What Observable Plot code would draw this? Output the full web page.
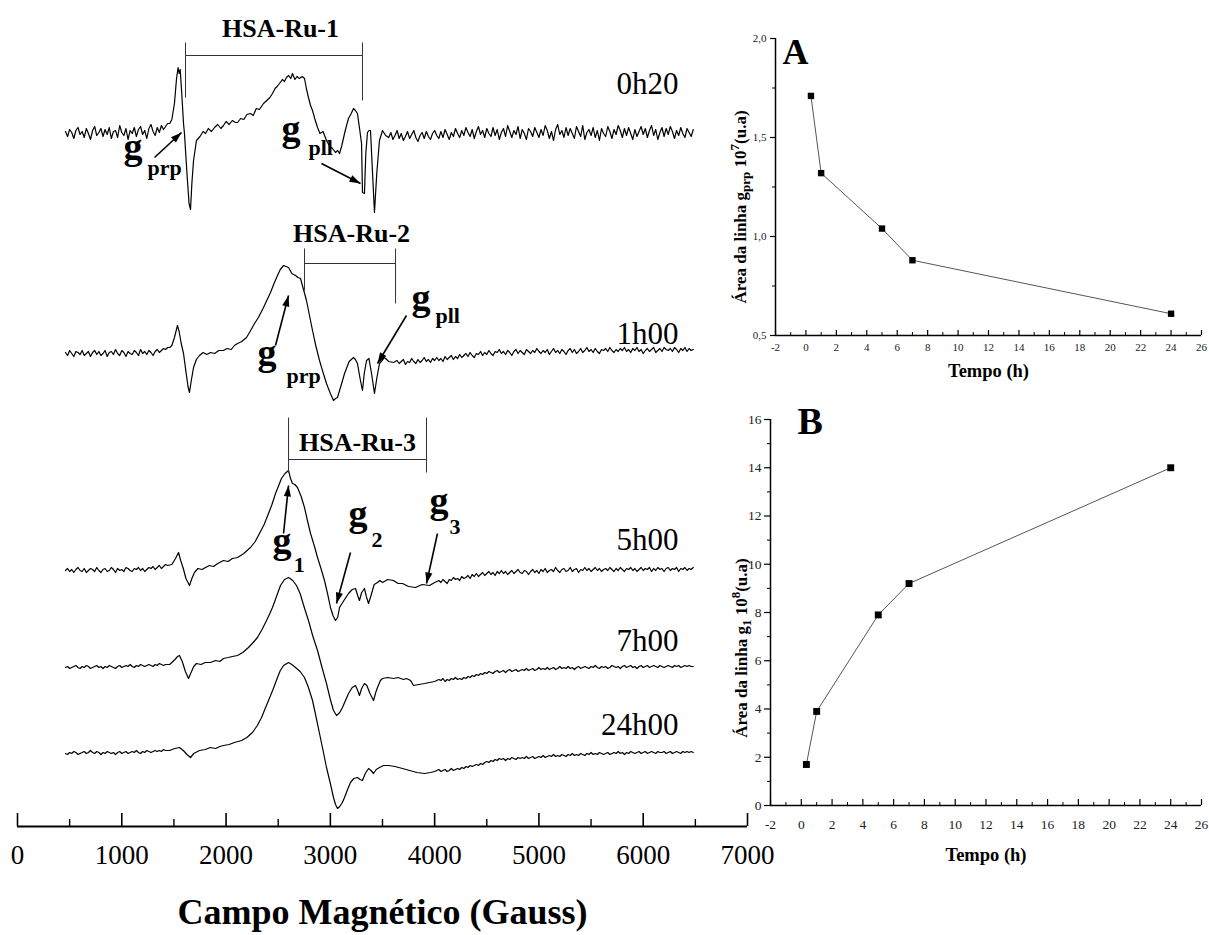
<!DOCTYPE html>
<html><head><meta charset="utf-8">
<script src="https://cdn.jsdelivr.net/npm/d3@7"></script>
<script src="https://cdn.jsdelivr.net/npm/@observablehq/plot@0.6"></script>
<style>
body{margin:0;background:#fff;width:1209px;height:935px;position:relative;overflow:hidden;font-family:"Liberation Serif","Times New Roman",serif;}
.panel{position:absolute;}
.panel svg{max-width:none!important;overflow:visible;}
.ylab{position:absolute;font-weight:bold;font-size:17px;white-space:nowrap;transform:translate(-50%,-50%) rotate(-90deg);line-height:1;color:#000;}
.ylab sub,.ylab sup{font-size:13px;}
</style></head><body>
<div id="left" class="panel" style="left:0;top:0;width:760px;height:935px"></div>
<div id="pa" class="panel" style="left:730px;top:0;width:479px;height:400px"></div>
<div id="pb" class="panel" style="left:730px;top:400px;width:479px;height:460px"></div>
<div class="ylab" style="left:740px;top:207px">Área da linha g<sub>prp</sub> 10<sup>7</sup>(u.a)</div>
<div class="ylab" style="left:741px;top:648px">Área da linha g<sub>1</sub> 10<sup>8</sup>(u.a)</div>
<script>
// ---------- DATA ----------
const timeLabels = ["0h20","1h00","5h00","7h00","24h00"];

// EPR spectra: [field (Gauss), relative intensity]
const trace0h20 = [
[460,2],[480,-3],[500,4],[520,1],[540,-5],[560,3],[580,6],[600,-1],[620,2],[640,-4],[660,5],[680,0],[700,-6],[720,3],[740,7],[760,-2],[780,1],[800,5],[820,-3],[840,4],[860,-1],[880,6],[900,-5],[920,2],[940,3],[960,-4],[980,8],[1000,1],[1020,-2],[1040,5],[1060,-6],[1080,3],[1100,0],[1120,6],[1140,-3],[1160,4],[1180,7],[1200,-1],[1220,3],[1240,-5],[1260,5],[1280,9],[1300,2],[1320,-2],[1340,6],[1360,1],[1380,8],[1400,4],[1420,7],[1440,10],
[1460,10],[1480,14],[1505,30],[1525,55],[1540,66],[1550,60],[1560,64],[1575,40],[1592,10],[1601,0],[1625,-40],[1645,-70],[1659,-76],[1672,-50],[1688,-27],[1716,-7],[1750,-3],[1780,2],[1803,0],[1830,5],[1860,2],[1889,6],[1920,9],[1950,5],[1975,8],[2000,12],[2030,9],[2060,13],[2090,11],[2110,11],[2140,15],[2170,14],[2200,19],[2234,20],[2260,18],[2290,25],[2320,24],[2359,30],[2390,33],[2420,36],[2445,40],[2470,45],[2490,47],[2512,50],[2540,54],[2560,52],[2579,56],[2600,58],[2620,55],[2637,60],[2660,54],[2680,57],[2704,55],[2730,57],[2752,55],[2770,45],[2790,36],[2810,28],[2829,23],[2850,15],[2877,6],[2900,0],[2930,2],[2963,-7],[2990,-12],[3020,-15],[3049,-19],[3070,-17],[3088,-20],[3110,-12],[3136,0],[3155,8],[3174,15],[3200,20],[3222,25],[3240,23],[3260,20],[3280,5],[3299,-10],[3308,-59],[3327,-60],[3340,-20],[3356,1],[3370,3],[3385,3],[3400,-30],[3423,-79],[3445,-40],[3471,-7],[3500,3],[3530,-2],
[3560,-4],[3580,1],[3600,-6],[3620,-2],[3640,3],[3660,-5],[3680,0],[3700,-7],[3720,-3],[3740,2],
[3760,-5],[3780,-1],[3800,3],[3820,-4],[3840,-8],[3860,-2],[3880,1],[3900,-5],[3920,2],[3940,-3],
[3960,-6],[3980,0],[4000,3],[4020,-2],[4040,-5],[4060,2],[4080,-4],[4100,4],[4120,-1],[4140,-6],
[4160,1],[4180,-3],[4200,5],[4220,0],[4240,-4],[4260,3],[4280,-2],[4300,6],[4320,1],[4340,-3],
[4360,4],[4380,-5],[4400,2],[4420,7],[4440,-1],[4460,3],[4480,-4],[4500,5],[4520,0],[4540,-3],
[4560,6],[4580,-2],[4600,4],[4620,-6],[4640,1],[4660,5],[4680,-3],[4700,8],[4720,2],[4740,-4],
[4760,3],[4780,-1],[4800,7],[4820,-5],[4840,4],[4860,0],[4880,-6],[4900,5],[4920,2],[4940,-3],
[4960,6],[4980,1],[5000,-4],[5020,4],[5040,-2],[5060,8],[5080,3],[5100,-5],[5120,2],[5140,-7],
[5160,4],[5180,9],[5200,-1],[5220,3],[5240,-4],[5260,6],[5280,-2],[5300,5],[5320,0],[5340,-5],
[5360,7],[5380,2],[5400,-3],[5420,8],[5440,-6],[5460,1],[5480,4],[5500,-2],[5520,6],[5540,-4],
[5560,3],[5580,-7],[5600,5],[5620,0],[5640,-3],[5660,7],[5680,2],[5700,-5],[5720,4],[5740,-1],
[5760,8],[5780,3],[5800,-4],[5820,5],[5840,-2],[5860,6],[5880,0],[5900,-6],[5920,4],[5940,-3],
[5960,2],[5980,7],[6000,-1],[6020,5],[6040,-4],[6060,3],[6080,8],[6100,-2],[6120,4],[6140,-6],
[6160,1],[6180,6],[6200,-3],[6220,5],[6240,-1],[6260,7],[6280,2],[6300,-5],[6320,3],[6340,-2],
[6360,6],[6380,0],[6400,-4],[6420,5],[6440,1],[6460,-3],[6480,4]
];
const trace1h00 = [
[460,1],[480,-2],[500,3],[520,0],[540,-3],[560,2],[580,1],[600,-1],[620,3],[640,-2],[660,0],[680,2],[700,-3],[720,1],[740,3],[760,-1],[780,2],[800,-2],[820,0],[840,3],[860,-3],[880,1],[900,2],[920,-1],[940,4],[960,0],[980,-2],[1000,3],[1020,1],[1040,-3],[1060,2],[1080,0],[1100,-1],[1120,3],[1140,1],[1160,-2],[1180,4],[1200,0],[1220,2],[1240,-1],[1260,3],[1280,1],[1300,-2],[1320,2],[1340,4],[1360,1],[1380,3],[1400,5],[1420,4],[1440,6],
[1460,6],[1480,8],[1505,16],[1534,28],[1550,22],[1570,10],[1592,0],[1615,-18],[1635,-33],[1649,-39],[1665,-28],[1688,-14],[1715,-6],[1745,-2],[1780,1],[1815,-1],[1851,1],[1890,0],[1930,3],[1975,3],[2010,5],[2050,4],[2080,8],[2110,10],[2150,12],[2196,16],[2230,22],[2273,30],[2310,36],[2359,46],[2390,53],[2426,61],[2460,70],[2493,78],[2520,84],[2551,88],[2575,87],[2599,86],[2630,80],[2666,78],[2690,76],[2714,75],[2740,65],[2771,53],[2800,38],[2829,23],[2860,8],[2896,-7],[2930,-19],[2963,-30],[3000,-40],[3030,-47],[3050,-45],[3068,-44],[3100,-33],[3136,-20],[3180,-8],[3222,-4],[3240,-6],[3260,-10],[3285,-25],[3308,-37],[3325,-20],[3347,-7],[3370,-5],[3395,-20],[3423,-40],[3445,-25],[3471,-10],[3519,-4],[3560,-8],[3605,-9],
[3640,-7],[3660,-10],[3680,-8],[3700,-6],[3720,-11],[3740,-8],[3760,-9],[3780,-5],[3800,-8],[3820,-10],
[3840,-6],[3860,-9],[3880,-7],[3900,-4],[3920,-8],[3940,-6],[3960,-9],[3980,-5],[4000,-7],[4020,-4],
[4040,-7],[4060,-5],[4080,-8],[4100,-3],[4120,-6],[4140,-4],[4160,-2],[4180,-6],[4200,-3],[4220,-5],
[4240,-1],[4260,-4],[4280,-2],[4300,0],[4320,-3],[4340,1],[4360,-2],[4380,-4],[4400,0],[4420,-1],
[4440,2],[4460,-2],[4480,1],[4500,-1],[4520,3],[4540,0],[4560,-2],[4580,2],[4600,1],[4620,4],
[4640,0],[4660,2],[4680,-1],[4700,3],[4720,1],[4740,-2],[4760,2],[4780,4],[4800,0],[4820,3],
[4840,1],[4860,-1],[4880,4],[4900,2],[4920,0],[4940,3],[4960,1],[4980,5],[5000,2],[5020,0],
[5040,3],[5060,1],[5080,4],[5100,-1],[5120,2],[5140,5],[5160,1],[5180,3],[5200,0],[5220,4],
[5240,2],[5260,-1],[5280,3],[5300,5],[5320,1],[5340,4],[5360,0],[5380,2],[5400,5],[5420,1],
[5440,3],[5460,6],[5480,2],[5500,4],[5520,1],[5540,5],[5560,2],[5580,0],[5600,4],[5620,3],
[5640,5],[5660,2],[5680,6],[5700,3],[5720,1],[5740,4],[5760,2],[5780,5],[5800,3],[5820,6],
[5840,2],[5860,4],[5880,1],[5900,5],[5920,3],[5940,6],[5960,2],[5980,4],[6000,0],[6020,3],
[6040,5],[6060,2],[6080,4],[6100,6],[6120,1],[6140,3],[6160,5],[6180,2],[6200,6],[6220,4],
[6240,3],[6260,5],[6280,2],[6300,6],[6320,4],[6340,1],[6360,5],[6380,3],[6400,6],[6420,2],
[6440,5],[6460,3],[6480,4]
];
const trace5h00 = [
[460,0],[480,2],[500,-1],[520,1],[540,-2],[560,1],[580,3],[600,0],[620,-1],[640,2],[660,-2],[680,0],[700,2],[720,1],[740,-1],[760,3],[780,0],[800,-2],[820,1],[840,2],[860,-1],[880,0],[900,3],[920,1],[940,-2],[960,2],[980,0],[1000,1],[1020,-1],[1040,3],[1060,2],[1080,0],[1100,-1],[1120,2],[1140,1],[1160,3],[1180,0],[1200,2],[1220,-1],[1240,1],[1260,3],[1280,2],[1300,4],[1320,1],[1340,3],[1360,5],[1380,2],[1400,4],[1420,6],[1440,5],
[1480,6],[1515,12],[1544,18],[1565,10],[1590,2],[1615,-8],[1649,-15],[1672,-8],[1697,-2],[1730,2],[1770,1],[1803,3],[1840,5],[1880,4],[1920,7],[1975,10],[2020,9],[2060,12],[2110,13],[2170,17],[2234,23],[2280,29],[2320,37],[2365,46],[2407,57],[2440,66],[2474,77],[2505,85],[2531,92],[2565,97],[2599,100],[2618,92],[2637,87],[2660,86],[2685,83],[2720,74],[2752,63],[2780,50],[2810,37],[2845,25],[2877,13],[2910,2],[2944,-10],[2975,-24],[3001,-37],[3025,-45],[3049,-50],[3070,-47],[3088,-37],[3130,-30],[3174,-23],[3210,-19],[3241,-18],[3262,-25],[3279,-30],[3300,-22],[3327,-18],[3345,-26],[3366,-33],[3390,-25],[3420,-14],[3452,-12],[3475,-10],[3500,-12],[3550,-9],[3605,-10],[3650,-13],[3692,-13],[3750,-16],[3816,-17],[3880,-14],[3951,-15],[4000,-12],
[4040,-10],[4060,-12],[4080,-9],[4100,-11],[4120,-13],[4140,-9],[4160,-10],[4180,-7],[4200,-9],[4220,-8],
[4240,-10],[4260,-6],[4280,-8],[4300,-7],[4320,-5],[4340,-8],[4360,-4],[4380,-6],[4400,-3],[4420,-6],
[4440,-4],[4460,-2],[4480,-5],[4500,-3],[4520,-1],[4540,-4],[4560,-2],[4580,-5],[4600,-1],[4620,-3],
[4640,0],[4660,-3],[4680,-1],[4700,-4],[4720,-2],[4740,0],[4760,-3],[4780,-1],[4800,1],[4820,-2],
[4840,-3],[4860,0],[4880,-1],[4900,-4],[4920,-1],[4940,1],[4960,-2],[4980,0],[5000,-3],[5020,1],
[5040,-1],[5060,2],[5080,-2],[5100,0],[5120,1],[5140,-1],[5160,3],[5180,0],[5200,-2],[5220,1],
[5240,2],[5260,-1],[5280,0],[5300,3],[5320,-1],[5340,1],[5360,2],[5380,-2],[5400,1],[5420,0],
[5440,3],[5460,0],[5480,2],[5500,-1],[5520,1],[5540,3],[5560,0],[5580,2],[5600,-1],[5620,1],
[5640,2],[5660,0],[5680,3],[5700,1],[5720,-1],[5740,2],[5760,0],[5780,3],[5800,1],[5820,-1],
[5840,2],[5860,1],[5880,3],[5900,0],[5920,2],[5940,-1],[5960,1],[5980,3],[6000,0],[6020,2],
[6040,1],[6060,3],[6080,-1],[6100,2],[6120,0],[6140,3],[6160,1],[6180,2],[6200,-1],[6220,2],
[6240,3],[6260,0],[6280,2],[6300,1],[6320,3],[6340,-1],[6360,2],[6380,1],[6400,3],[6420,0],
[6440,2],[6460,1],[6480,3]
];
const trace7h00 = [
[460,0],[480,1],[500,-1],[520,0],[540,1],[560,2],[580,0],[600,-1],[620,1],[640,0],[660,2],[680,1],[700,-1],[720,0],[740,1],[760,2],[780,0],[800,1],[820,-1],[840,1],[860,0],[880,2],[900,1],[920,0],[940,-1],[960,1],[980,2],[1000,0],[1020,1],[1040,2],[1060,1],[1080,3],[1100,1],[1120,0],[1140,2],[1160,1],[1180,3],[1200,2],[1220,1],[1240,2],[1260,3],[1280,2],[1300,1],[1320,3],[1340,2],[1360,4],[1380,3],[1400,2],[1420,3],[1440,3],
[1460,3],[1480,5],[1510,8],[1535,11],[1553,12],[1580,6],[1610,-4],[1640,-11],[1660,-6],[1690,1],[1716,4],[1760,3],[1800,5],[1851,5],[1900,7],[1940,6],[1975,9],[2020,10],[2060,11],[2110,12],[2160,15],[2215,20],[2260,25],[2301,30],[2345,38],[2388,47],[2420,54],[2445,60],[2480,70],[2522,82],[2560,88],[2599,90],[2640,87],[2675,82],[2710,74],[2750,60],[2790,47],[2830,32],[2877,17],[2920,0],[2963,-16],[3000,-32],[3030,-43],[3059,-48],[3090,-45],[3116,-40],[3145,-33],[3174,-26],[3210,-20],[3241,-18],[3262,-23],[3279,-28],[3300,-21],[3327,-16],[3350,-18],[3380,-26],[3414,-33],[3435,-25],[3452,-20],[3480,-13],[3500,-11],[3550,-10],[3605,-11],[3650,-10],[3700,-12],[3730,-11],[3770,-13],[3797,-18],[3850,-17],[3903,-16],[3950,-15],[4000,-14],
[4040,-12],[4060,-13],[4080,-11],[4100,-14],[4120,-12],[4140,-13],[4160,-11],[4180,-12],[4200,-10],[4220,-12],
[4240,-11],[4260,-12],[4280,-10],[4300,-11],[4320,-9],[4340,-10],[4360,-8],[4380,-9],[4400,-7],[4420,-8],
[4440,-6],[4460,-7],[4480,-5],[4500,-6],[4520,-4],[4540,-5],[4560,-6],[4580,-4],[4600,-3],[4620,-5],
[4640,-4],[4660,-3],[4680,-5],[4700,-3],[4720,-2],[4740,-4],[4760,-3],[4780,-2],[4800,-4],[4820,-3],
[4840,-2],[4860,-3],[4880,-1],[4900,-3],[4920,-2],[4940,-1],[4960,-3],[4980,-2],[5000,0],[5020,-2],
[5040,-1],[5060,-2],[5080,0],[5100,-2],[5120,-1],[5140,0],[5160,-2],[5180,-1],[5200,1],[5220,-1],
[5240,0],[5260,-1],[5280,1],[5300,-1],[5320,0],[5340,-2],[5360,0],[5380,1],[5400,-1],[5420,0],
[5440,1],[5460,0],[5480,-1],[5500,1],[5520,0],[5540,2],[5560,0],[5580,-1],[5600,1],[5620,0],
[5640,1],[5660,-1],[5680,0],[5700,2],[5720,1],[5740,0],[5760,1],[5780,-1],[5800,1],[5820,2],
[5840,0],[5860,1],[5880,2],[5900,0],[5920,1],[5940,-1],[5960,1],[5980,2],[6000,0],[6020,1],
[6040,2],[6060,0],[6080,1],[6100,2],[6120,1],[6140,0],[6160,2],[6180,1],[6200,0],[6220,1],
[6240,2],[6260,1],[6280,0],[6300,2],[6320,1],[6340,2],[6360,0],[6380,1],[6400,2],[6420,1],
[6440,2],[6460,1],[6480,1]
];
const trace24h00 = [
[460,0],[480,-1],[500,1],[520,0],[540,2],[560,1],[580,-1],[600,0],[620,1],[640,2],[660,0],[680,1],[700,3],[720,1],[740,0],[760,2],[780,1],[800,-1],[820,1],[840,0],[860,2],[880,1],[900,0],[920,1],[940,-1],[960,1],[980,2],[1000,0],[1020,1],[1040,2],[1060,0],[1080,1],[1100,2],[1120,1],[1140,3],[1160,1],[1180,0],[1200,2],[1220,1],[1240,3],[1260,2],[1280,1],[1300,2],[1320,3],[1340,2],[1360,3],[1380,2],[1400,4],[1420,3],[1440,3],
[1460,3],[1480,4],[1510,5],[1553,6],[1590,3],[1625,-1],[1659,-4],[1690,0],[1745,3],[1800,4],[1850,6],[1900,5],[1940,7],[1975,8],[2030,9],[2080,11],[2148,13],[2200,16],[2253,21],[2300,28],[2340,36],[2375,45],[2407,53],[2450,64],[2493,76],[2520,83],[2551,88],[2599,91],[2630,89],[2666,86],[2710,82],[2752,76],[2790,66],[2829,53],[2860,38],[2896,20],[2930,3],[2963,-14],[3000,-30],[3030,-44],[3050,-51],[3068,-55],[3090,-53],[3115,-49],[3136,-44],[3165,-36],[3193,-29],[3225,-25],[3260,-24],[3285,-26],[3308,-27],[3335,-20],[3366,-15],[3390,-17],[3414,-20],[3440,-16],[3471,-14],[3510,-12],[3557,-12],[3620,-13],[3692,-15],[3760,-17],[3830,-19],[3903,-20],[3960,-19],[4000,-18],
[4040,-16],[4060,-18],[4080,-17],[4100,-16],[4120,-18],[4140,-17],[4160,-15],[4180,-17],[4200,-16],[4220,-15],
[4240,-16],[4260,-14],[4280,-15],[4300,-13],[4320,-14],[4340,-12],[4360,-13],[4380,-12],[4400,-11],[4420,-12],
[4440,-10],[4460,-11],[4480,-9],[4500,-8],[4520,-9],[4540,-7],[4560,-8],[4580,-6],[4600,-7],[4620,-5],
[4640,-6],[4660,-5],[4680,-7],[4700,-5],[4720,-6],[4740,-4],[4760,-5],[4780,-6],[4800,-4],[4820,-5],
[4840,-4],[4860,-5],[4880,-3],[4900,-5],[4920,-4],[4940,-3],[4960,-5],[4980,-4],[5000,-3],[5020,-4],
[5040,-2],[5060,-4],[5080,-3],[5100,-2],[5120,-3],[5140,-1],[5160,-3],[5180,-2],[5200,-3],[5220,-1],
[5240,-2],[5260,-3],[5280,-1],[5300,-2],[5320,0],[5340,-2],[5360,-1],[5380,-2],[5400,0],[5420,-1],
[5440,-2],[5460,0],[5480,-1],[5500,1],[5520,-1],[5540,0],[5560,-1],[5580,1],[5600,0],[5620,-1],
[5640,0],[5660,1],[5680,-1],[5700,0],[5720,1],[5740,0],[5760,2],[5780,0],[5800,1],[5820,-1],
[5840,1],[5860,0],[5880,2],[5900,1],[5920,0],[5940,1],[5960,2],[5980,0],[6000,1],[6020,2],
[6040,0],[6060,1],[6080,2],[6100,1],[6120,0],[6140,2],[6160,1],[6180,1],[6200,2],[6220,0],
[6240,1],[6260,2],[6280,0],[6300,1],[6320,2],[6340,1],[6360,0],[6380,2],[6400,1],[6420,2],
[6440,1],[6460,2],[6480,1]
];
const fieldMajorTicks = [0,1000,2000,3000,4000,5000,6000,7000];
const fieldMinorTicks = [500,1500,2500,3500,4500,5500,6500];

// Panel A and B
const tempoA = [0.33, 1, 5, 7, 24];
const areaA  = [1.71, 1.32, 1.04, 0.88, 0.61];
const tempoB = [0.33, 1, 5, 7, 24];
const areaB  = [1.7, 3.9, 7.9, 9.2, 14.0];
const tempoMajor = [-2,0,2,4,6,8,10,12,14,16,18,20,22,24,26];
const tempoMinor = [-1,1,3,5,7,9,11,13,15,17,19,21,23,25];
const areaAMajor = [0.5,1.0,1.5,2.0];
const areaAMinor = [0.75,1.25,1.75];
const areaBMajor = [0,2,4,6,8,10,12,14,16];
const areaBMinor = [1,3,5,7,9,11,13,15];

// ---------- LAYOUT (positions in data units) ----------
const traceOffset = [693, 473, 256, 159, 73];
const timeLabelY  = [733, 483, 277, 176, 92];
const timeLabelX  = 6338;
const brackets = [
  {x1:1611,y1:771,x2:3308,y2:771},{x1:1611,y1:784,x2:1611,y2:729},{x1:3308,y1:784,x2:3308,y2:726},
  {x1:2752,y1:563,x2:3625,y2:563},{x1:2752,y1:578,x2:2752,y2:536},{x1:3625,y1:578,x2:3625,y2:523},
  {x1:2599,y1:367,x2:3922,y2:367},{x1:2599,y1:409,x2:2599,y2:354},{x1:3922,y1:409,x2:3922,y2:354}
];
const complexLabels = [
  {text:"HSA-Ru-1", x:2522, y:798},{text:"HSA-Ru-2", x:3203, y:593},{text:"HSA-Ru-3", x:3260, y:384}
];
const gMain = [
  {x:1016,y:668},{x:2532,y:686},{x:2301,y:462},{x:3778,y:517},{x:2445,y:274},{x:3174,y:301},{x:3951,y:314}
];
const gSub = [
  {text:"prp",x:1247,y:652},{text:"pll",x:2790,y:672},{text:"prp",x:2579,y:444},{text:"pll",x:4008,y:504},
  {text:"1",x:2650,y:255},{text:"2",x:3394,y:280},{text:"3",x:4142,y:293}
];
const arrows = [
  {x1:1314,y1:669,x2:1573,y2:694},{x1:2915,y1:663,x2:3289,y2:643},
  {x1:2474,y1:481,x2:2599,y2:531},{x1:3730,y1:511,x2:3452,y2:463},
  {x1:2551,y1:293,x2:2599,y2:341},{x1:3193,y1:274,x2:3059,y2:223},{x1:4027,y1:293,x2:3922,y2:243}
];

// ---------- LEFT PANEL ----------
const serif = "Liberation Serif, Times New Roman, serif";
const traces = [trace0h20, trace1h00, trace5h00, trace7h00, trace24h00];
const rows = traces.flatMap((t, i) => t.map(([f, v]) => ({field: f, value: v + traceOffset[i], time: timeLabels[i]})));
const timeRows = timeLabels.map((t, i) => ({text: t, y: timeLabelY[i]}));

// filled arrowhead: tip at origin, pointing up before rotation
const arrowHead = {draw(ctx) { ctx.moveTo(0, 0); ctx.lineTo(-3.6, 11); ctx.lineTo(3.6, 11); ctx.closePath(); }};
const pxPerGauss = 730 / 7000; // horizontal pixels per gauss (y: 1 px per unit)
const headAngle = a => Math.atan2((a.x2 - a.x1) * pxPerGauss, a.y2 - a.y1) * 180 / Math.PI;

const leftPlot = Plot.plot({
  width: 760, height: 935,
  marginLeft: 17, marginRight: 13, marginTop: 0, marginBottom: 109,
  x: {domain: [0, 7000], axis: null},
  y: {domain: [0, 826], axis: null},
  style: {background: "transparent", fontFamily: serif, overflow: "visible"},
  marks: [
    Plot.line(rows, {x: "field", y: "value", z: "time", stroke: "#000", strokeWidth: 1.2}),
    Plot.link(brackets, {x1: "x1", y1: "y1", x2: "x2", y2: "y2", stroke: "#333", strokeWidth: 1}),
    Plot.text(complexLabels, {x: "x", y: "y", text: "text", fontSize: 26, fontWeight: "bold", fill: "#000"}),
    Plot.text(timeRows, {x: timeLabelX, y: "y", text: "text", fontSize: 31, textAnchor: "end", lineAnchor: "bottom", fill: "#000"}),
    Plot.text(gMain, {x: "x", y: "y", text: () => "g", fontSize: 38, fontWeight: "bold", textAnchor: "start", lineAnchor: "bottom", fill: "#000"}),
    Plot.text(gSub, {x: "x", y: "y", text: "text", fontSize: 22, fontWeight: "bold", textAnchor: "start", lineAnchor: "bottom", fill: "#000"}),
    Plot.link(arrows, {x1: "x1", y1: "y1", x2: "x2", y2: "y2", stroke: "#000", strokeWidth: 1.6}),
    Plot.dot(arrows, {x: "x2", y: "y2", symbol: arrowHead, rotate: headAngle, fill: "#000", stroke: "none", r: 4}),
    Plot.ruleY([0], {x1: 0, x2: 7000, stroke: "#000", strokeWidth: 2}),
    Plot.ruleX(fieldMajorTicks, {x: d => d, y1: 0, y2: 13, stroke: "#000", strokeWidth: 1.6}),
    Plot.ruleX(fieldMinorTicks, {x: d => d, y1: 0, y2: 7, stroke: "#000", strokeWidth: 1.4}),
    Plot.text(fieldMajorTicks, {x: d => d, y: 0, dy: 29, text: d => String(d), fontSize: 27, fill: "#000"}),
    Plot.text(["Campo Magnético (Gauss)"], {x: 3500, y: 0, dy: 97, text: d => d, fontSize: 36, fontWeight: "bold", lineAnchor: "bottom", fill: "#000"})
  ]
});
document.getElementById("left").append(leftPlot);

// ---------- PANEL A ----------
const dataA = tempoA.map((t, i) => ({t, a: areaA[i]}));
const fmtComma = d => d.toFixed(1).replace(".", ",");
const plotA = Plot.plot({
  width: 479, height: 400,
  marginLeft: 45, marginRight: 8, marginTop: 38, marginBottom: 65,
  x: {domain: [-2, 26], axis: null},
  y: {domain: [0.5, 2.0], axis: null},
  style: {background: "transparent", fontFamily: serif, overflow: "visible"},
  marks: [
    Plot.line(dataA, {x: "t", y: "a", stroke: "#555", strokeWidth: 1}),
    Plot.dot(dataA, {x: "t", y: "a", symbol: "square", r: 3.6, fill: "#000", stroke: "none"}),
    Plot.ruleY([0.5], {x1: -2, x2: 26, stroke: "#000", strokeWidth: 1.5}),
    Plot.ruleX([-2], {y1: 0.5, y2: 2.0, stroke: "#000", strokeWidth: 1.5}),
    Plot.ruleX(tempoMajor, {x: d => d, y1: 0.5, y2: 0.5, insetTop: -5, stroke: "#000", strokeWidth: 1.2}),
    Plot.ruleX(tempoMinor, {x: d => d, y1: 0.5, y2: 0.5, insetTop: -3, stroke: "#000", strokeWidth: 1}),
    Plot.ruleY(areaAMajor, {y: d => d, x1: -2, x2: -2, insetLeft: -5, stroke: "#000", strokeWidth: 1.2}),
    Plot.ruleY(areaAMinor, {y: d => d, x1: -2, x2: -2, insetLeft: -3, stroke: "#000", strokeWidth: 1}),
    Plot.text(tempoMajor, {x: d => d, y: 0.5, dy: 12, text: d => String(d), fontSize: 11, fill: "#222"}),
    Plot.text(areaAMajor, {x: -2, y: d => d, dx: -9, text: fmtComma, textAnchor: "end", fontSize: 11, fill: "#222"}),
    Plot.text(["Tempo (h)"], {frameAnchor: "bottom", dy: 41, lineAnchor: "bottom", text: d => d, fontSize: 18.5, fontWeight: "bold", fill: "#000"}),
    Plot.text(["A"], {frameAnchor: "top-left", dx: 7, dy: 25, lineAnchor: "bottom", textAnchor: "start", text: d => d, fontSize: 36, fontWeight: "bold", fill: "#000"})
  ]
});
document.getElementById("pa").append(plotA);

// ---------- PANEL B ----------
const dataB = tempoB.map((t, i) => ({t, a: areaB[i]}));
const plotB = Plot.plot({
  width: 479, height: 460,
  marginLeft: 40, marginRight: 8, marginTop: 19, marginBottom: 55,
  x: {domain: [-2, 26], axis: null},
  y: {domain: [0, 16], axis: null},
  style: {background: "transparent", fontFamily: serif, overflow: "visible"},
  marks: [
    Plot.line(dataB, {x: "t", y: "a", stroke: "#555", strokeWidth: 1}),
    Plot.dot(dataB, {x: "t", y: "a", symbol: "square", r: 3.9, fill: "#000", stroke: "none"}),
    Plot.ruleY([0], {x1: -2, x2: 26, stroke: "#000", strokeWidth: 1.5}),
    Plot.ruleX([-2], {y1: 0, y2: 16, stroke: "#000", strokeWidth: 1.5}),
    Plot.ruleX(tempoMajor, {x: d => d, y1: 0, y2: 0, insetTop: -6, stroke: "#000", strokeWidth: 1.2}),
    Plot.ruleX(tempoMinor, {x: d => d, y1: 0, y2: 0, insetTop: -3, stroke: "#000", strokeWidth: 1}),
    Plot.ruleY(areaBMajor, {y: d => d, x1: -2, x2: -2, insetLeft: -6, stroke: "#000", strokeWidth: 1.2}),
    Plot.ruleY(areaBMinor, {y: d => d, x1: -2, x2: -2, insetLeft: -3, stroke: "#000", strokeWidth: 1}),
    Plot.text(tempoMajor, {x: d => d, y: 0, dy: 19, text: d => String(d), fontSize: 13.5, fill: "#222"}),
    Plot.text(areaBMajor, {x: -2, y: d => d, dx: -9, text: d => String(d), textAnchor: "end", fontSize: 13.5, fill: "#222"}),
    Plot.text(["Tempo (h)"], {frameAnchor: "bottom", dy: 55, lineAnchor: "bottom", text: d => d, fontSize: 18.5, fontWeight: "bold", fill: "#000"}),
    Plot.text(["B"], {frameAnchor: "top-left", dx: 27, dy: 14, lineAnchor: "bottom", textAnchor: "start", text: d => d, fontSize: 38, fontWeight: "bold", fill: "#000"})
  ]
});
document.getElementById("pb").append(plotB);
</script>
</body></html>
